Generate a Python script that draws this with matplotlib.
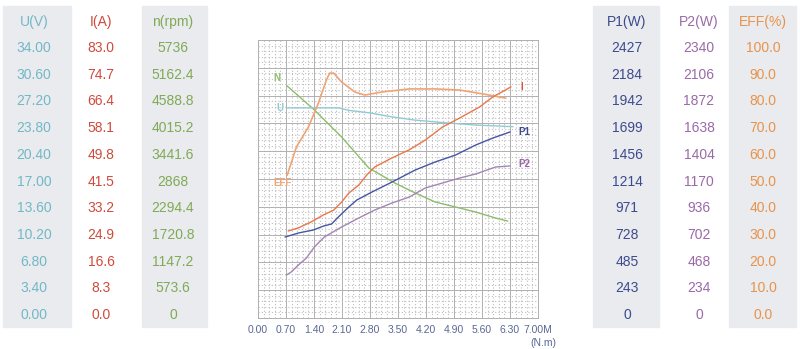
import matplotlib.pyplot as plt
from matplotlib.patches import Rectangle
from matplotlib.ticker import MultipleLocator

plt.rcParams['font.family'] = ['Liberation Sans', 'DejaVu Sans']

##### Data #################################################################

# table columns (top to bottom)
u_ticks = ['34.00', '30.60', '27.20', '23.80', '20.40', '17.00', '13.60', '10.20', '6.80', '3.40', '0.00']
i_ticks = ['83.0', '74.7', '66.4', '58.1', '49.8', '41.5', '33.2', '24.9', '16.6', '8.3', '0.0']
n_ticks = ['5736', '5162.4', '4588.8', '4015.2', '3441.6', '2868', '2294.4', '1720.8', '1147.2', '573.6', '0']
p1_ticks = ['2427', '2184', '1942', '1699', '1456', '1214', '971', '728', '485', '243', '0']
p2_ticks = ['2340', '2106', '1872', '1638', '1404', '1170', '936', '702', '468', '234', '0']
eff_ticks = ['100.0', '90.0', '80.0', '70.0', '60.0', '50.0', '40.0', '30.0', '20.0', '10.0', '0.0']

x_ticks = ['0.00', '0.70', '1.40', '2.10', '2.80', '3.50', '4.20', '4.90', '5.60', '6.30', '7.00M']

# curves, torque in N.m
n_x = [0.73, 1.41, 2.09, 2.77, 3.42, 3.93, 4.43, 4.94, 5.44, 5.94, 6.24]
n_y = [4787, 4292, 3735, 3095, 2785, 2580, 2393, 2290, 2187, 2063, 2001]

u_x = [0.73, 2.01, 2.27, 2.77, 3.35, 3.93, 4.61, 5.44, 6.37]
u_y = [25.7, 25.7, 25.4, 25.1, 24.6, 24.2, 23.9, 23.6, 23.4]

eff_x = [0.73, 0.96, 1.26, 1.51, 1.71, 1.79, 1.89, 2.09, 2.42, 2.67, 3.10, 3.78, 4.43, 5.04, 5.62, 6.19]
eff_y = [51.4, 61.5, 68.7, 77.3, 85.6, 88.1, 88.1, 84.9, 81.3, 80.2, 81.3, 82.4, 82.4, 82.0, 80.6, 79.1]

i_x = [0.76, 1.01, 1.33, 1.64, 1.89, 2.09, 2.27, 2.52, 2.72, 2.92, 3.35, 3.78, 4.18, 4.61, 5.04, 5.54, 5.87, 6.19, 6.32]
i_y = [26.0, 26.9, 28.7, 30.8, 32.2, 34.6, 37.3, 39.7, 42.7, 45.1, 47.8, 50.2, 53.1, 57.0, 59.7, 63.0, 66.0, 68.1, 69.0]

p1_x = [0.68, 1.01, 1.38, 1.64, 1.84, 2.01, 2.27, 2.47, 2.85, 3.35, 3.93, 4.43, 4.94, 5.44, 5.87, 6.30]
p1_y = [707, 742, 768, 803, 821, 882, 969, 1030, 1100, 1187, 1292, 1362, 1423, 1510, 1571, 1624]

p2_x = [0.71, 0.83, 1.01, 1.21, 1.41, 1.66, 2.09, 2.52, 2.92, 3.35, 3.78, 4.18, 4.61, 5.04, 5.44, 5.94, 6.30]
p2_y = [362, 387, 446, 505, 598, 682, 766, 842, 909, 968, 1018, 1094, 1136, 1178, 1212, 1271, 1280]

##### Styles #################################################################

c_u, c_i, c_n = '#72b8c6', '#cf4a3c', '#80aa56'
c_p1, c_p2, c_eff = '#3d4b8c', '#9a6aa8', '#e8934c'
bg = '#e9ebee'

fig = plt.figure(figsize=(8, 3.49), dpi=100)
W, H = 800, 349


def table_column(cx, header, values, color, shaded, x0, x1):
    if shaded:
        fig.patches.append(Rectangle((x0 / W, 1 - 327 / H), (x1 - x0) / W, (327 - 6) / H,
                                     transform=fig.transFigure, color=bg, zorder=0))
    fig.text(cx / W, 1 - 22 / H, header, color=color, fontsize=10, ha='center', va='center')
    for k, v in enumerate(values):
        y = 48 + k * 26.7
        fig.text(cx / W, 1 - y / H, v, color=color, fontsize=10, ha='center', va='center')


table_column(34, 'U(V)', u_ticks, c_u, True, 3, 71)
table_column(101, 'I(A)', i_ticks, c_i, False, 0, 0)
table_column(173, 'n(rpm)', n_ticks, c_n, True, 142, 207)
table_column(627, 'P1(W)', p1_ticks, c_p1, True, 593, 659)
table_column(699, 'P2(W)', p2_ticks, c_p2, False, 0, 0)
table_column(763, 'EFF(%)', eff_ticks, c_eff, True, 729, 796)

##### Chart #################################################################

ax = fig.add_axes([258 / W, 1 - 318 / H, 280 / W, 278 / H])
ax.set_xlim(0, 7.0)
ax.set_ylim(0, 10)

ax.xaxis.set_major_locator(MultipleLocator(0.7))
ax.xaxis.set_minor_locator(MultipleLocator(0.14))
ax.yaxis.set_major_locator(MultipleLocator(1))
ax.yaxis.set_minor_locator(MultipleLocator(0.2))
ax.grid(which='major', color='#b0b0b0', linewidth=0.7)
ax.grid(which='minor', color='#bdbdbd', linewidth=0.8, linestyle=(0, (1, 2)))
ax.set_axisbelow(True)
for s in ax.spines.values():
    s.set_color('#b0b0b0')
    s.set_linewidth(0.7)

ax.set_xticks([k * 0.7 for k in range(11)])
ax.set_xticklabels(x_ticks, fontsize=7.5, color='#5a6794')
ax.tick_params(axis='both', which='both', length=0)
ax.tick_params(axis='y', labelleft=False)
ax.tick_params(axis='x', pad=5)
ax.text(6.82, -0.9, '(N.m)', fontsize=7.5, color='#5a6794', ha='left', va='center')

# scale each series to the 10 grid rows using its table top value
ax.plot(n_x, [v / 5736 * 10 for v in n_y], color='#8dbd6c', lw=1)
ax.plot(u_x, [v / 34.0 * 10 for v in u_y], color='#8fcbd3', lw=1)
ax.plot(eff_x, [v / 100.0 * 10 for v in eff_y], color='#f0a474', lw=1.2)
ax.plot(i_x, [v / 83.0 * 10 for v in i_y], color='#e8774a', lw=1)
ax.plot(p1_x, [v / 2427 * 10 for v in p1_y], color='#4556a4', lw=1)
ax.plot(p2_x, [v / 2340 * 10 for v in p2_y], color='#a486b4', lw=1)

lab = dict(fontsize=7, fontweight='bold', va='center')
ax.text(0.38, 8.65, 'N', color='#8dbd6c', **lab)
ax.text(0.45, 7.55, 'U', color='#8fcbd3', **lab)
ax.text(0.38, 4.85, 'EFF', color='#f0a474', **lab)
ax.text(6.55, 8.3, 'I', color='#d9553c', **lab)
ax.text(6.52, 6.7, 'P1', color='#3d4b8c', **lab)
ax.text(6.52, 5.55, 'P2', color='#9a6aa8', **lab)

fig.savefig('out.png', dpi=100)
